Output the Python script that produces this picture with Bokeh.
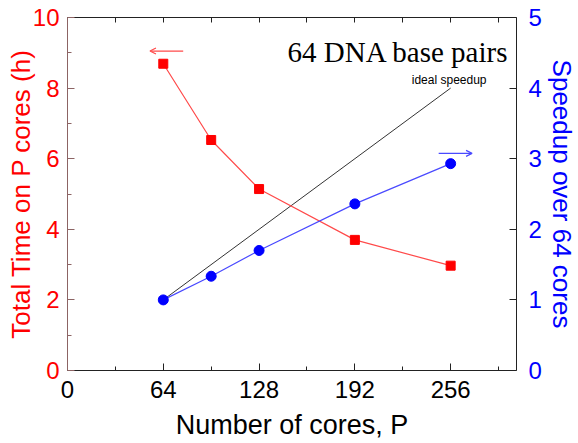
from bokeh.plotting import figure
from bokeh.models import (Range1d, LinearAxis, FixedTicker, Arrow, OpenHead, Label)
from bokeh.embed import file_html
from bokeh.resources import INLINE

# ---- data ----
cores = [64, 96, 128, 192, 256]
time_h = [8.69, 6.53, 5.14, 3.70, 2.97]
speedup = [1.0, 1.335, 1.70, 2.36, 2.93]
ideal_cores = [64, 256]
ideal_speedup = [1.0, 4.0]
x_major = [0, 64, 128, 192, 256]
x_minor = [32, 96, 160, 224, 288]
x_all = [0, 32, 64, 96, 128, 160, 192, 224, 256, 288]
left_major = [0, 2, 4, 6, 8, 10]
left_minor = [1, 3, 5, 7, 9]
right_major = [0, 1, 2, 3, 4, 5]

SANS = "Liberation Sans"
SERIF = "Liberation Serif"

p = figure(frame_width=449, frame_height=353,
           x_range=Range1d(0, 300), y_range=Range1d(0, 10),
           output_backend="svg", toolbar_location=None,
           min_border_left=67, min_border_right=54,
           min_border_top=17, min_border_bottom=62)
p.extra_y_ranges = {"right": Range1d(0, 5)}
p.xgrid.visible = False
p.ygrid.visible = False
p.outline_line_color = None
p.background_fill_color = "white"
p.border_fill_color = "white"

def style(ax, label_color, line_color):
    ax.major_tick_in = 7
    ax.major_tick_out = 0
    ax.minor_tick_in = 4
    ax.minor_tick_out = 0
    ax.axis_line_color = line_color
    ax.major_tick_line_color = line_color
    ax.minor_tick_line_color = line_color
    ax.major_label_text_color = label_color
    ax.major_label_text_font = SANS
    ax.major_label_text_font_size = "24px"
    ax.axis_label_text_color = label_color
    ax.axis_label_text_font = SANS
    ax.axis_label_text_font_size = "26px"
    ax.axis_label_text_font_style = "normal"

# bottom axis
xa = p.xaxis[0]
xa.ticker = FixedTicker(ticks=x_major, minor_ticks=x_minor)
style(xa, "black", "#222222")
xa.axis_label = "Number of cores, P"
xa.axis_label_text_font_size = "27px"
xa.major_label_standoff = 10
xa.axis_label_standoff = 9

# left axis
ya = p.yaxis[0]
ya.ticker = FixedTicker(ticks=left_major, minor_ticks=left_minor)
style(ya, "#ff0000", "#8c6464")
ya.axis_label = "Total Time on P cores (h)"
ya.major_label_standoff = 8
ya.axis_label_standoff = -6

# right axis
ra = LinearAxis(y_range_name="right",
                ticker=FixedTicker(ticks=right_major, minor_ticks=[]))
style(ra, "#0000ff", "#222222")
ra.axis_label = "Speedup over 64 cores"
ra.major_label_standoff = 12
ra.axis_label_standoff = 2
p.add_layout(ra, "right")

# top axis (ticks only, all drawn as minor ticks so no labels exist)
ta = LinearAxis(ticker=FixedTicker(ticks=[], minor_ticks=x_all))
style(ta, "black", "#222222")
ta.minor_tick_in = 5
p.add_layout(ta, "above")

# ideal speedup line
p.line(ideal_cores, ideal_speedup, y_range_name="right",
       line_color="#333333", line_width=1)

# time series (left)
p.line(cores, time_h, line_color="#ff4a4a", line_width=1.2)
p.scatter(cores, time_h, marker="square", size=9,
          fill_color="#ff0000", line_color="#ff0000")

# speedup series (right)
p.line(cores, speedup, y_range_name="right",
       line_color="#4a4aff", line_width=1.2)
p.scatter(cores, speedup, y_range_name="right", marker="circle", size=10,
          fill_color="#0000ff", line_color="#0000ff")

# direction arrows
p.add_layout(Arrow(end=OpenHead(size=6, line_color="#ff4a4a", line_width=1.2),
                   x_start=77.3, y_start=9.05, x_end=55.1, y_end=9.05,
                   line_color="#ff4a4a", line_width=1.2))
p.add_layout(Arrow(end=OpenHead(size=6, line_color="#4a4aff", line_width=1.2),
                   x_start=248, y_start=3.075, x_end=270.3, y_end=3.075,
                   y_range_name="right",
                   line_color="#4a4aff", line_width=1.2))

# annotations
p.add_layout(Label(x=295, y=9.02, text="64 DNA base pairs",
                   text_font=SERIF, text_font_size="29px",
                   text_align="right", text_baseline="alphabetic",
                   text_color="black"))
p.add_layout(Label(x=255, y=8.22, text="ideal speedup",
                   text_font=SANS, text_font_size="12px",
                   text_align="center", text_baseline="middle",
                   text_color="black"))

open("out.html", "w").write(file_html(p, INLINE))
